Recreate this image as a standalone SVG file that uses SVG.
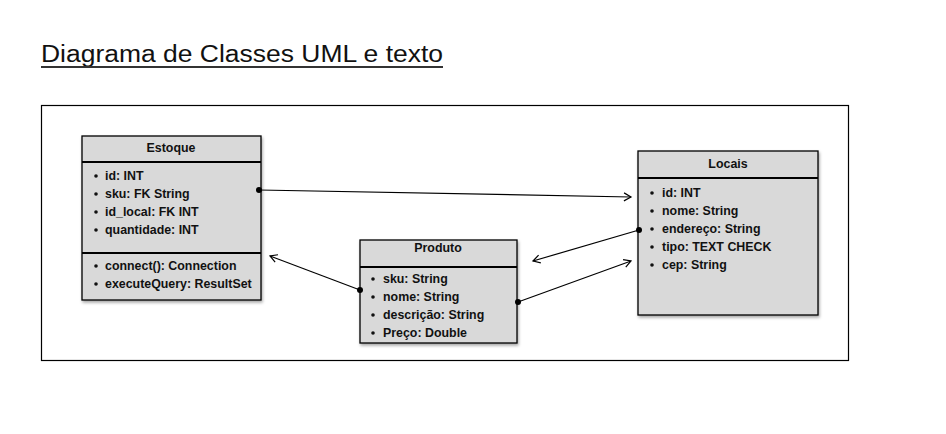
<svg xmlns="http://www.w3.org/2000/svg" width="946" height="434" viewBox="0 0 946 434">
<defs>
<filter id="sh" x="-10%" y="-10%" width="130%" height="130%"><feDropShadow dx="1" dy="2" stdDeviation="1.5" flood-color="#000" flood-opacity="0.35"/></filter>
<marker id="arr" markerWidth="10" markerHeight="10" refX="8" refY="5" orient="auto" markerUnits="userSpaceOnUse"><path d="M1,1 L8,5 L1,9" fill="none" stroke="#000" stroke-width="1.2"/></marker>
<marker id="dot" markerWidth="8" markerHeight="8" refX="4" refY="4" markerUnits="userSpaceOnUse"><circle cx="4" cy="4" r="3" fill="#000"/></marker>
</defs>
<style>
.box{fill:#d9d9d9;stroke:#000;stroke-width:1.3;filter:url(#sh)}
.div{stroke:#000;stroke-width:2}
.t{font-family:"Liberation Sans",Arial,sans-serif;font-size:12.4px;font-weight:bold;fill:#111}
.h{font-family:"Liberation Sans",Arial,sans-serif;font-size:12.4px;font-weight:bold;fill:#111;text-anchor:middle}
.b{fill:#111}
.c{fill:none;stroke:#000;stroke-width:1.2}
</style>
<rect width="946" height="434" fill="#fff"/>
<text x="41" y="62" font-family="'Liberation Sans',Arial,sans-serif" font-size="23" fill="#111" textLength="402" lengthAdjust="spacingAndGlyphs">Diagrama de Classes UML e texto</text>
<line x1="41" y1="67" x2="443" y2="67" stroke="#333" stroke-width="2"/>
<rect x="41.5" y="105.5" width="807" height="255" fill="none" stroke="#000" stroke-width="1.2"/>
<g id="estoque">
<rect class="box" x="82" y="136" width="179" height="164"/>
<line class="div" x1="82" y1="162" x2="261" y2="162"/>
<line class="div" x1="82" y1="253" x2="261" y2="253"/>
<text class="h" x="171" y="152">Estoque</text>
<g class="b"><circle cx="96" cy="176" r="1.8"/><circle cx="96" cy="194" r="1.8"/><circle cx="96" cy="212" r="1.8"/><circle cx="96" cy="230" r="1.8"/><circle cx="96" cy="266" r="1.8"/><circle cx="96" cy="284" r="1.8"/></g>
<text class="t" x="105" y="180">id: INT</text>
<text class="t" x="105" y="198">sku: FK String</text>
<text class="t" x="105" y="216">id_local: FK INT</text>
<text class="t" x="105" y="234">quantidade: INT</text>
<text class="t" x="105" y="270">connect(): Connection</text>
<text class="t" x="105" y="288">executeQuery: ResultSet</text>
</g>
<g id="produto">
<rect class="box" x="360" y="240" width="157" height="103"/>
<line class="div" x1="360" y1="267" x2="517" y2="267"/>
<text class="h" x="438" y="252">Produto</text>
<g class="b"><circle cx="373" cy="279" r="1.8"/><circle cx="373" cy="297" r="1.8"/><circle cx="373" cy="315" r="1.8"/><circle cx="373" cy="333" r="1.8"/></g>
<text class="t" x="383" y="283">sku: String</text>
<text class="t" x="383" y="301">nome: String</text>
<text class="t" x="383" y="319">descrição: String</text>
<text class="t" x="383" y="337">Preço: Double</text>
</g>
<g id="locais">
<rect class="box" x="638" y="151" width="180" height="164"/>
<line class="div" x1="638" y1="178" x2="818" y2="178"/>
<text class="h" x="728" y="168">Locais</text>
<g class="b"><circle cx="652" cy="193" r="1.8"/><circle cx="652" cy="211" r="1.8"/><circle cx="652" cy="229" r="1.8"/><circle cx="652" cy="247" r="1.8"/><circle cx="652" cy="265" r="1.8"/></g>
<text class="t" x="662" y="197">id: INT</text>
<text class="t" x="662" y="215">nome: String</text>
<text class="t" x="662" y="233">endereço: String</text>
<text class="t" x="662" y="251">tipo: TEXT CHECK</text>
<text class="t" x="662" y="269">cep: String</text>
</g>
<g id="connectors">
<line class="c" x1="259" y1="190" x2="631" y2="197" marker-start="url(#dot)" marker-end="url(#arr)"/>
<line class="c" x1="360" y1="290" x2="270" y2="256" marker-start="url(#dot)" marker-end="url(#arr)"/>
<line class="c" x1="639" y1="230" x2="533" y2="261" marker-start="url(#dot)" marker-end="url(#arr)"/>
<line class="c" x1="518" y1="302" x2="631" y2="261" marker-start="url(#dot)" marker-end="url(#arr)"/>
</g>
</svg>
